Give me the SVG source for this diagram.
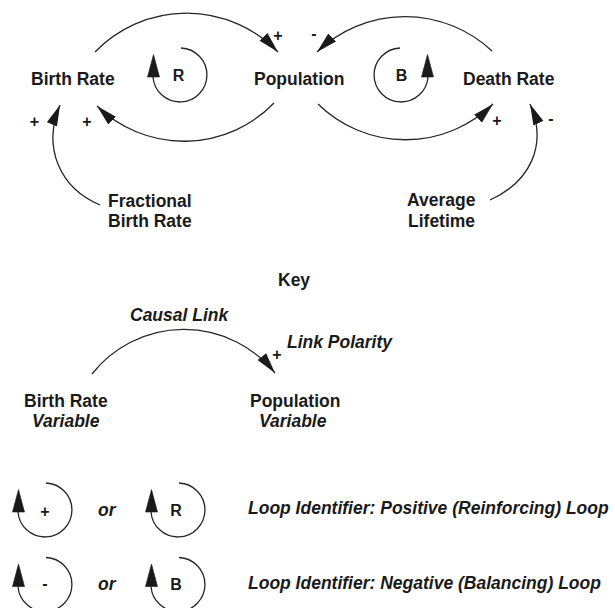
<svg xmlns="http://www.w3.org/2000/svg" width="615" height="608" viewBox="0 0 615 608">
  <style>
    text { font-family: "Liberation Sans", Arial, Helvetica, sans-serif; font-weight: bold; font-size: 17.5px; fill: #1a1a1a; }
    .it { font-style: italic; }
    .sign { font-size: 16px; text-anchor: middle; }
    .loopid { font-size: 16px; text-anchor: middle; }
    .link { fill: none; stroke: #262626; stroke-width: 1.3; marker-end: url(#arrow); }
    .loop { fill: none; stroke: #262626; stroke-width: 1.3; }
    .head { fill: #1a1a1a; stroke: #1a1a1a; stroke-width: 0.6; stroke-linejoin: round; }
  </style>
  <defs>
    <marker id="arrow" markerUnits="userSpaceOnUse" viewBox="-21 -6 22 12" refX="0" refY="0" markerWidth="22" markerHeight="12" orient="auto">
      <path d="M0,0 L-21,-5.5 L-21,5.5 Z" fill="#1a1a1a"/>
    </marker>
    <!-- clockwise loop glyph, centred on the origin, arrowhead on the left -->
    <g id="loopCW">
      <path class="loop" d="M1,-27 A27,27 0 1,1 -27,2"/>
      <polygon class="head" points="-26.5,-20.5 -32.5,2 -20.5,2"/>
    </g>
  </defs>

  <rect width="615" height="608" fill="#ffffff"/>

  <!-- causal links -->
  <g id="connectors">
    <path class="link" d="M95,52 A127,127 0 0,1 278,52"/>
    <path class="link" d="M274,103 A125,125 0 0,1 97,106"/>
    <path class="link" d="M492,51 A127,127 0 0,0 317,52"/>
    <path class="link" d="M318,104 A125,125 0 0,0 493,104"/>
    <path class="link" d="M100,205 C60,188 42,148 60,105"/>
    <path class="link" d="M490,200 C530,182 548,145 530,104"/>
    <path class="link" d="M92,374 A117,117 0 0,1 275,373"/>
  </g>

  <!-- polarity signs -->
  <g id="polarities">
    <text class="sign" x="278" y="40.5">+</text>
    <text class="sign" x="314" y="38.5">-</text>
    <text class="sign" x="34.5" y="126.5">+</text>
    <text class="sign" x="87" y="126.5">+</text>
    <text class="sign" x="497" y="125.5">+</text>
    <text class="sign" x="551" y="123.5">-</text>
  </g>

  <!-- variables -->
  <g id="birth-rate"><text x="31" y="85">Birth Rate</text></g>
  <g id="population"><text x="254" y="85">Population</text></g>
  <g id="death-rate"><text x="463" y="85">Death Rate</text></g>
  <g id="fractional-birth-rate">
    <text x="108" y="206.5">Fractional</text>
    <text x="108" y="226.5">Birth Rate</text>
  </g>
  <g id="average-lifetime">
    <text x="407" y="206">Average</text>
    <text x="408" y="226.5">Lifetime</text>
  </g>

  <!-- loop identifiers in the diagram -->
  <g id="loop-r">
    <use href="#loopCW" transform="translate(180,75)"/>
    <text class="loopid" x="178.5" y="81">R</text>
  </g>
  <g id="loop-b">
    <use href="#loopCW" transform="translate(401,75) scale(-1,1)"/>
    <text class="loopid" x="401.5" y="80.5">B</text>
  </g>

  <!-- key -->
  <g id="key">
    <text x="278" y="286">Key</text>
    <text class="it" x="130" y="321">Causal Link</text>
    <text class="it" x="287" y="348">Link Polarity</text>
    <text class="sign" x="277" y="359.5">+</text>
  </g>
  <g id="key-birth-rate">
    <text x="24" y="407">Birth Rate</text>
    <text class="it" x="32" y="427">Variable</text>
  </g>
  <g id="key-population">
    <text x="250" y="407">Population</text>
    <text class="it" x="259" y="427">Variable</text>
  </g>

  <g id="key-positive-loop">
    <use href="#loopCW" transform="translate(45,510)"/>
    <text class="sign" x="45" y="516.5">+</text>
    <text class="it" x="98" y="515.5">or</text>
    <use href="#loopCW" transform="translate(178,510)"/>
    <text class="loopid" x="176" y="515.5">R</text>
    <text class="it" x="248" y="514">Loop Identifier: Positive (Reinforcing) Loop</text>
  </g>
  <g id="key-negative-loop">
    <use href="#loopCW" transform="translate(45,584.5)"/>
    <text class="sign" x="45" y="588.5">-</text>
    <text class="it" x="98" y="589.5">or</text>
    <use href="#loopCW" transform="translate(178,584.5)"/>
    <text class="loopid" x="176" y="589.5">B</text>
    <text class="it" x="248" y="588.5">Loop Identifier: Negative (Balancing) Loop</text>
  </g>
</svg>
